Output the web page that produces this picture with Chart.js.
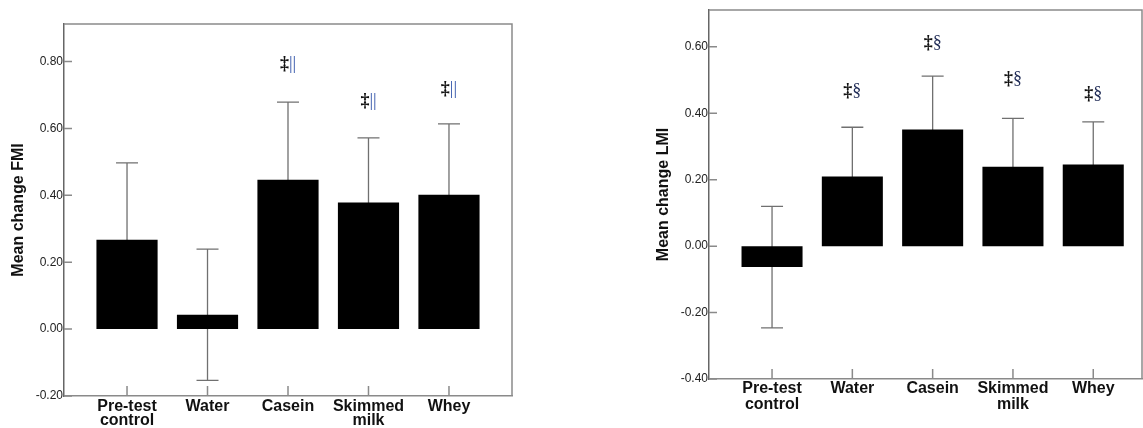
<!DOCTYPE html>
<html>
<head>
<meta charset="utf-8">
<script src="https://cdn.jsdelivr.net/npm/chart.js"></script>
<style>
  body { margin: 0; background: #ffffff; }
  .panel { position: absolute; top: 0; }
</style>
</head>
<body>
<canvas id="fmi-chart" class="panel" width="520" height="428" style="left:0"></canvas>
<canvas id="lmi-chart" class="panel" width="503" height="428" style="left:640px"></canvas>
<script>
// Группы
const categories = [['Pre-test', 'control'], 'Water', 'Casein', ['Skimmed', 'milk'], 'Whey'];

// FMI: средние, ошибки, метки значимости
const fmiMeans = [0.267, 0.043, 0.447, 0.379, 0.402];
const fmiErrors = [0.230, 0.196, 0.232, 0.193, 0.212];
const fmiMarks = ['', '', '‡||', '‡||', '‡||'];
const fmiMarkY = [null, null, 0.792, 0.680, 0.718];
const fmiTicks = [-0.20, 0.00, 0.20, 0.40, 0.60, 0.80];

// LMI
const lmiMeans = [-0.063, 0.210, 0.351, 0.239, 0.246];
const lmiErrors = [0.183, 0.148, 0.161, 0.146, 0.128];
const lmiMarks = ['', '‡§', '‡§', '‡§', '‡§'];
const lmiMarkY = [null, 0.467, 0.610, 0.502, 0.457];
const lmiTicks = [-0.40, -0.20, 0.00, 0.20, 0.40, 0.60];

const FONT = '"Liberation Sans", Arial, sans-serif';

// Планки погрешностей (рисуем под столбцами)
const errorBarsPlugin = {
    id: 'errorBars',
    beforeDatasetsDraw(chart) {
        const ds = chart.data.datasets[0];
        const { ctx, scales: { x, y } } = chart;
        ctx.save();
        ctx.strokeStyle = '#707070';
        ctx.lineWidth = 1.3;
        ds.data.forEach((p, i) => {
            const px = x.getPixelForValue(p.x);
            const top = y.getPixelForValue(p.y + ds.errors[i]);
            const bot = y.getPixelForValue(p.y - ds.errors[i]);
            ctx.beginPath();
            ctx.moveTo(px, top); ctx.lineTo(px, bot);
            ctx.moveTo(px - 11, top); ctx.lineTo(px + 11, top);
            ctx.moveTo(px - 11, bot); ctx.lineTo(px + 11, bot);
            ctx.stroke();
        });
        ctx.restore();
    }
};

// Рамка сверху/справа и засечки внутрь
const framePlugin = {
    id: 'frame',
    afterDatasetsDraw(chart) {
        const { ctx, chartArea: a, scales: { x, y } } = chart;
        ctx.save();
        ctx.strokeStyle = '#8a8a8a';
        ctx.lineWidth = 1.5;
        ctx.beginPath();
        ctx.moveTo(a.left, a.top); ctx.lineTo(a.right, a.top); ctx.lineTo(a.right, a.bottom);
        x.ticks.forEach(t => {
            const px = x.getPixelForValue(t.value);
            ctx.moveTo(px, a.bottom); ctx.lineTo(px, a.bottom - 10);
        });
        y.ticks.forEach(t => {
            const py = y.getPixelForValue(t.value);
            ctx.moveTo(a.left, py); ctx.lineTo(a.left + 8, py);
        });
        ctx.stroke();
        ctx.restore();
    }
};

// Метки значимости над столбцами
const marksPlugin = {
    id: 'marks',
    afterDatasetsDraw(chart) {
        const ds = chart.data.datasets[0];
        const { ctx, scales: { x, y } } = chart;
        const headFont = 'bold 18px "Liberation Serif", "Times New Roman", serif';
        const tailFont = '18px "Liberation Serif", "Times New Roman", serif';
        ctx.save();
        ctx.textBaseline = 'middle';
        ctx.textAlign = 'left';
        ds.marks.forEach((m, i) => {
            if (!m) return;
            const head = m[0], tail = m.slice(1);
            ctx.font = headFont;
            const wh = ctx.measureText(head).width;
            ctx.font = tailFont;
            const wt = ctx.measureText(tail).width;
            const px = x.getPixelForValue(i) - (wh + wt) / 2;
            const py = y.getPixelForValue(ds.markY[i]);
            ctx.font = headFont;
            ctx.fillStyle = '#111111';
            ctx.fillText(head, px, py);
            ctx.font = tailFont;
            ctx.fillStyle = ds.markColor;
            ctx.fillText(tail, px + wh, py);
        });
        ctx.restore();
    }
};

// Функция для построения одной панели
function makeChart(canvasId, p) {
    const ctx = document.getElementById(canvasId).getContext('2d');
    return new Chart(ctx, {
        type: 'bar',
        data: {
            datasets: [{
                data: p.means.map((v, i) => ({ x: i, y: v })),
                errors: p.errors,
                marks: p.marks,
                markY: p.markY,
                markColor: p.markColor,
                backgroundColor: '#000000',
                borderWidth: 0,
                barPercentage: 0.76,
                categoryPercentage: 1
            }]
        },
        options: {
            responsive: false,
            animation: false,
            devicePixelRatio: 1,
            layout: { padding: p.padding },
            plugins: { legend: { display: false }, tooltip: { enabled: false } },
            scales: {
                x: {
                    type: 'linear',
                    offset: false,
                    min: p.xMin, max: p.xMax,
                    afterBuildTicks: s => { s.ticks = categories.map((c, i) => ({ value: i })); },
                    afterFit: s => { s.height = p.bottom; },
                    grid: { display: false, drawTicks: false },
                    border: { color: '#8a8a8a', width: 1.5 },
                    ticks: {
                        callback: v => categories[v],
                        color: '#111111',
                        font: { family: FONT, size: 16, weight: 'bold', lineHeight: p.lineHeight },
                        padding: p.labelPad,
                        maxRotation: 0,
                        autoSkip: false
                    }
                },
                y: {
                    min: p.yMin, max: p.yMax,
                    afterBuildTicks: s => { s.ticks = p.ticks.map(v => ({ value: v })); },
                    afterFit: s => { s.width = p.left; },
                    grid: { display: false, drawTicks: false },
                    border: { color: '#666666', width: 1.5 },
                    ticks: {
                        callback: v => v.toFixed(2),
                        color: '#222222',
                        font: { family: FONT, size: 12 },
                        padding: 1
                    },
                    title: {
                        display: true,
                        text: p.title,
                        color: '#111111',
                        font: { family: FONT, size: 16, weight: 'bold' },
                        padding: { top: p.titlePad, bottom: 0 }
                    }
                }
            }
        },
        plugins: [errorBarsPlugin, framePlugin, marksPlugin]
    });
}

makeChart('fmi-chart', {
    means: fmiMeans, errors: fmiErrors, marks: fmiMarks, markY: fmiMarkY, ticks: fmiTicks,
    markColor: '#3355aa', title: 'Mean change FMI',
    yMin: -0.2, yMax: 0.9125, xMin: -0.783, xMax: 4.783,
    padding: { top: 24, right: 8, left: 0, bottom: 0 },
    left: 64, bottom: 32, lineHeight: 0.9, labelPad: 3, titlePad: 9
});

makeChart('lmi-chart', {
    means: lmiMeans, errors: lmiErrors, marks: lmiMarks, markY: lmiMarkY, ticks: lmiTicks,
    markColor: '#1e2a55', title: 'Mean change LMI',
    yMin: -0.4, yMax: 0.711, xMin: -0.785, xMax: 4.607,
    padding: { top: 10, right: 1, left: 0, bottom: 0 },
    left: 69, bottom: 49, lineHeight: 0.98, labelPad: 2, titlePad: 14
});
</script>
</body>
</html>
